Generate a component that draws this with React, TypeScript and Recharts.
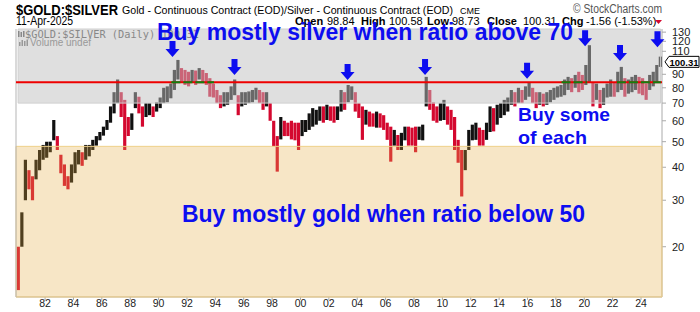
import React from "react";
import {
  ComposedChart,
  Bar,
  Cell,
  XAxis,
  YAxis,
  ReferenceArea,
  ReferenceLine,
  ReferenceDot,
} from "recharts";

// quarterly high / low of the gold:silver ratio (Q1..Q4 per row)
const firstYear = 1980;

const highs = [
  20, 27, 42.7, 39, // 1980
  37, 42.7, 46.5, 48.6,
  50, 50, 60.4, 52.5,
  44.6, 41, 37, 41,
  45.6, 46.5, 45.6, 48.6,
  48.6, 50.8, 52.5, 54.4, // 1985
  57, 60.4, 68, 77,
  86, 77, 72, 62,
  64, 77, 74, 68,
  70, 70, 68, 70.5,
  73.5, 80, 81, 83, // 1990
  93.5, 102, 95, 93.5,
  92, 93.5, 93, 95,
  93.5, 91, 87, 83,
  78.5, 75, 77, 77,
  81, 86, 75, 77, // 1995
  77, 77.5, 78.5, 80,
  78.5, 77, 77, 70,
  60, 52.5, 62, 60,
  59, 60, 59, 59,
  60.4, 60.4, 64, 67, // 2000
  66, 68, 68, 69,
  68, 68, 68, 78.5,
  77, 82, 81, 77,
  70, 68, 66, 65,
  64, 65, 64, 63, // 2005
  59, 57, 55.4, 53,
  54, 57, 57, 56.5,
  57, 57, 58, 88,
  78.5, 70.5, 68, 70,
  72, 68, 66, 62, // 2010
  50.8, 46.5, 46.5, 55.4,
  58, 59, 56.5, 55.4,
  59, 68, 67, 69,
  70, 72, 73.5, 78.5,
  77, 80, 78.5, 81, // 2015
  84, 80, 77, 77,
  76, 77, 78.5, 80,
  81, 82, 86, 88,
  87, 89.5, 92, 89.5,
  97.6, 116, 84, 83, // 2020
  78.5, 80, 83, 86,
  84, 92, 96, 87,
  86, 88, 89.5, 88,
  87, 83, 89.5, 92,
  97.6, 105, // 2025
];

const lows = [
  13.7, 20, 30, 33, // 1980
  30, 36, 39, 42.7,
  43.5, 45.6, 50.6, 46.5,
  38, 34, 33, 35,
  38, 41, 40.5, 42.7,
  44, 46.5, 48.3, 50.6, // 1985
  52.7, 55.4, 59, 64,
  70, 62, 46.5, 52.5,
  55.4, 67, 64, 57,
  62, 63, 62, 65,
  67, 70, 70.5, 73, // 1990
  78.5, 86, 84, 82,
  81, 84, 82, 86,
  84, 82, 74, 73.5,
  70, 67, 68, 69,
  72, 75, 63, 68, // 1995
  69, 70, 70.5, 72,
  70, 66, 68, 60,
  48, 38.5, 51, 52.5,
  52.5, 51, 50.6, 46.5,
  52.5, 54.4, 55.4, 57, // 2000
  58, 60, 59, 60.4,
  60, 59, 60.4, 65,
  66, 70.5, 72, 65,
  61.5, 50.8, 58, 57,
  57, 56.5, 56.5, 55.4, // 2005
  50.8, 42, 48.3, 46.5,
  46.5, 50.6, 48.3, 48.3,
  45.6, 50.8, 50.6, 68,
  66, 60, 59, 60,
  60.4, 58, 55.4, 46.5, // 2010
  41.6, 31, 39, 46.5,
  50.6, 50.8, 48.3, 48.3,
  50.8, 54.4, 54.7, 58,
  61.5, 63, 65, 69,
  68, 70, 70, 72, // 2015
  74, 70, 67, 69,
  68, 69, 70.5, 72,
  73.5, 74, 75, 78.5,
  77, 80, 77, 78.5,
  82, 84, 68, 72, // 2020
  67, 69, 73.5, 74,
  74, 77, 78.5, 74,
  76, 77, 78.5, 76,
  75, 72, 78.5, 81,
  83.5, 96, // 2025
];

const xTicks = [
  1982, 1984, 1986, 1988, 1990, 1992, 1994, 1996, 1998, 2000, 2002,
  2004, 2006, 2008, 2010, 2012, 2014, 2016, 2018, 2020, 2022, 2024,
];
const yTicks = [20, 30, 40, 50, 60, 70, 80, 90, 110, 120, 130];

// peaks marked with blue arrows
const arrowYears = [1990.98, 1995.35, 2003.32, 2008.78, 2015.97, 2020.06, 2022.52, 2025.16];
const arrowValues = [104.7, 89.5, 85.7, 89.5, 86.5, 115, 101, 114];

const silverAbove = 70;
const goldBelow = 48;
const midLine = 84;
const greenRuns = [
  [1990.9, 1993.9],
  [2018.4, 2020.2],
  [2022.3, 2025.4],
];
const lastClose = 100.31;

const xDomain = [1979.95, 2025.48];
const yDomain = [12.9, 133.6];

const data = highs.map((h, i) => ({
  t: firstYear + i / 4 + 0.125,
  range: [lows[i], h],
}));

const UP = "#111111";
const DOWN = "#d4082f";
const BLUE = "#0d0df0";
const SANS = '"Liberation Sans", Arial, sans-serif';

function barColor(i: number) {
  if (i === 0) return DOWN;
  const mid = (highs[i] + lows[i]) / 2;
  const prev = (highs[i - 1] + lows[i - 1]) / 2;
  return mid >= prev ? UP : DOWN;
}

function Arrow(props: any) {
  const { cx, cy } = props;
  if (cx == null || cy == null) return null;
  const pts = [
    [cx - 3, cy - 16],
    [cx + 3, cy - 16],
    [cx + 3, cy - 8],
    [cx + 7, cy - 8],
    [cx, cy],
    [cx - 7, cy - 8],
    [cx - 3, cy - 8],
  ]
    .map((p) => p.join(","))
    .join(" ");
  return <polygon points={pts} fill={BLUE} />;
}

function PriceTag(props: any) {
  const { cx, cy } = props;
  if (cx == null || cy == null) return null;
  const x0 = cx + 3;
  return (
    <g>
      <path
        d={`M${x0} ${cy} L${x0 + 4} ${cy - 5.5} L${x0 + 34} ${cy - 5.5} L${x0 + 34} ${cy + 5.5} L${x0 + 4} ${cy + 5.5} Z`}
        fill="#fff"
        stroke="#000"
        strokeWidth={1}
      />
      <text
        x={x0 + 4.5}
        y={cy + 3.8}
        fontFamily={SANS}
        fontWeight="bold"
        fontSize={9.5}
        fill="#000"
      >
        {lastClose.toFixed(2)}
      </text>
    </g>
  );
}

function Header() {
  const lab = { fontFamily: SANS, fontSize: 11, fill: "#000" };
  return (
    <svg
      width={700}
      height={312}
      style={{ position: "absolute", left: 0, top: 0, pointerEvents: "none" }}
    >
      <text x={16} y={15} fontFamily={SANS} fontWeight="bold" fontSize={14} textLength={102} lengthAdjust="spacingAndGlyphs">
        $GOLD:$SILVER
      </text>
      <text x={122} y={14} fontFamily={SANS} fontSize={11.5} textLength={331} lengthAdjust="spacingAndGlyphs">
        Gold - Continuous Contract (EOD)/Silver - Continuous Contract (EOD)
      </text>
      <text x={460} y={14} fontFamily={SANS} fontSize={9.5} textLength={20} lengthAdjust="spacingAndGlyphs">
        CME
      </text>
      <text x={573} y={13} fontFamily={SANS} fontSize={12} fill="#555" textLength={89} lengthAdjust="spacingAndGlyphs">
        © StockCharts.com
      </text>
      <text x={16} y={25} fontFamily={SANS} fontSize={12} textLength={57} lengthAdjust="spacingAndGlyphs">
        11-Apr-2025
      </text>

      <text x={295} y={25} {...lab} fontWeight="bold">Open</text>
      <text x={327} y={25} {...lab}>98.84</text>
      <text x={361} y={25} {...lab} fontWeight="bold">High</text>
      <text x={389} y={25} {...lab}>100.58</text>
      <text x={427} y={25} {...lab} fontWeight="bold">Low</text>
      <text x={452} y={25} {...lab}>98.73</text>
      <text x={487} y={25} {...lab} fontWeight="bold">Close</text>
      <text x={523} y={25} {...lab}>100.31</text>
      <text x={562} y={25} {...lab} fontWeight="bold">Chg</text>
      <text x={586} y={25} {...lab}>-1.56 (-1.53%)</text>
      <polygon points="655,20 662,20 658.5,24" fill="#d4082f" />

      <rect x={18} y={31} width={1.5} height={6} fill="#888" />
      <rect x={20.5} y={32} width={1.5} height={5} fill="#888" />
      <rect x={23} y={31} width={1.5} height={6} fill="#888" />
      <text x={25} y={37.5} fontFamily='"DejaVu Sans Mono", monospace' fontSize={10.3} fill="#888">
        $GOLD:$SILVER (Daily) 100.31
      </text>
      <rect x={19} y={42} width={1.5} height={4} fill="#999" />
      <rect x={21.5} y={40} width={1.5} height={6} fill="#999" />
      <rect x={24} y={41} width={1.5} height={5} fill="#999" />
      <rect x={26.5} y={39.5} width={1.5} height={6.5} fill="#999" />
      <text x={30} y={46} fontFamily={SANS} fontSize={10} fill="#999" textLength={61} lengthAdjust="spacingAndGlyphs">
        Volume undef
      </text>

      <text x={157} y={40} fontFamily={SANS} fontWeight="bold" fontSize={23} fill={BLUE} textLength={416} lengthAdjust="spacingAndGlyphs">
        Buy mostly silver when ratio above 70
      </text>
      <text x={518} y={121} fontFamily={SANS} fontWeight="bold" fontSize={19} fill={BLUE} textLength={92} lengthAdjust="spacingAndGlyphs">
        Buy some
      </text>
      <text x={518} y={144} fontFamily={SANS} fontWeight="bold" fontSize={19} fill={BLUE} textLength={69} lengthAdjust="spacingAndGlyphs">
        of each
      </text>
      <text x={182} y={222} fontFamily={SANS} fontWeight="bold" fontSize={23} fill={BLUE} textLength={403} lengthAdjust="spacingAndGlyphs">
        Buy mostly gold when ratio below 50
      </text>
    </svg>
  );
}

export default function App() {
  return (
    <div
      style={{
        position: "absolute",
        left: 0,
        top: 0,
        width: 700,
        height: 312,
        background: "#fff",
      }}
    >
      <ComposedChart
        width={700}
        height={312}
        data={data}
        margin={{ top: 29, right: 0, bottom: 0, left: 16 }}
      >
        <XAxis
          dataKey="t"
          type="number"
          domain={xDomain}
          allowDataOverflow
          ticks={xTicks}
          interval={0}
          tickFormatter={(v) => String(v).slice(2)}
          height={15}
          tickSize={3}
          tickMargin={0}
          stroke="#aaa"
          tick={{ fontSize: 10.5, fill: "#222", fontFamily: SANS }}
        />
        <YAxis
          orientation="right"
          scale="log"
          domain={yDomain}
          allowDataOverflow
          ticks={yTicks}
          interval={0}
          width={38}
          tickSize={4}
          tickMargin={6}
          stroke="#aaa"
          tick={{ fontSize: 11, fill: "#222", fontFamily: SANS }}
        />

        <Bar dataKey="range" barSize={4} isAnimationActive={false}>
          {data.map((d, i) => (
            <Cell key={d.t} fill={barColor(i)} />
          ))}
        </Bar>

        <ReferenceArea
          x1={1980.1}
          x2={2025.38}
          y1={silverAbove}
          y2={yDomain[1]}
          fill="#c0c0c0"
          fillOpacity={0.5}
          stroke="#cfcfcf"
          zIndex={650}
        />
        <ReferenceArea
          y1={yDomain[0]}
          y2={goldBelow}
          fill="#e4ac41"
          fillOpacity={0.3}
          stroke="#efd08a"
          zIndex={650}
        />
        <ReferenceLine x={xDomain[0]} stroke="#b5b5b5" zIndex={660} />
        <ReferenceLine y={midLine} stroke="#ee0000" strokeWidth={2} zIndex={700} />
        {greenRuns.map(([a, b]) => (
          <ReferenceLine
            key={a}
            segment={[
              { x: a, y: midLine },
              { x: b, y: midLine },
            ]}
            stroke="#108010"
            strokeWidth={2}
            strokeDasharray="9 3"
            zIndex={710}
          />
        ))}
        {arrowYears.map((yr, i) => (
          <ReferenceDot
            key={yr}
            x={yr}
            y={arrowValues[i]}
            ifOverflow="visible"
            shape={Arrow}
            zIndex={800}
          />
        ))}
        <ReferenceDot
          x={xDomain[1]}
          y={lastClose}
          ifOverflow="visible"
          shape={PriceTag}
          zIndex={800}
        />
      </ComposedChart>
      <Header />
    </div>
  );
}
